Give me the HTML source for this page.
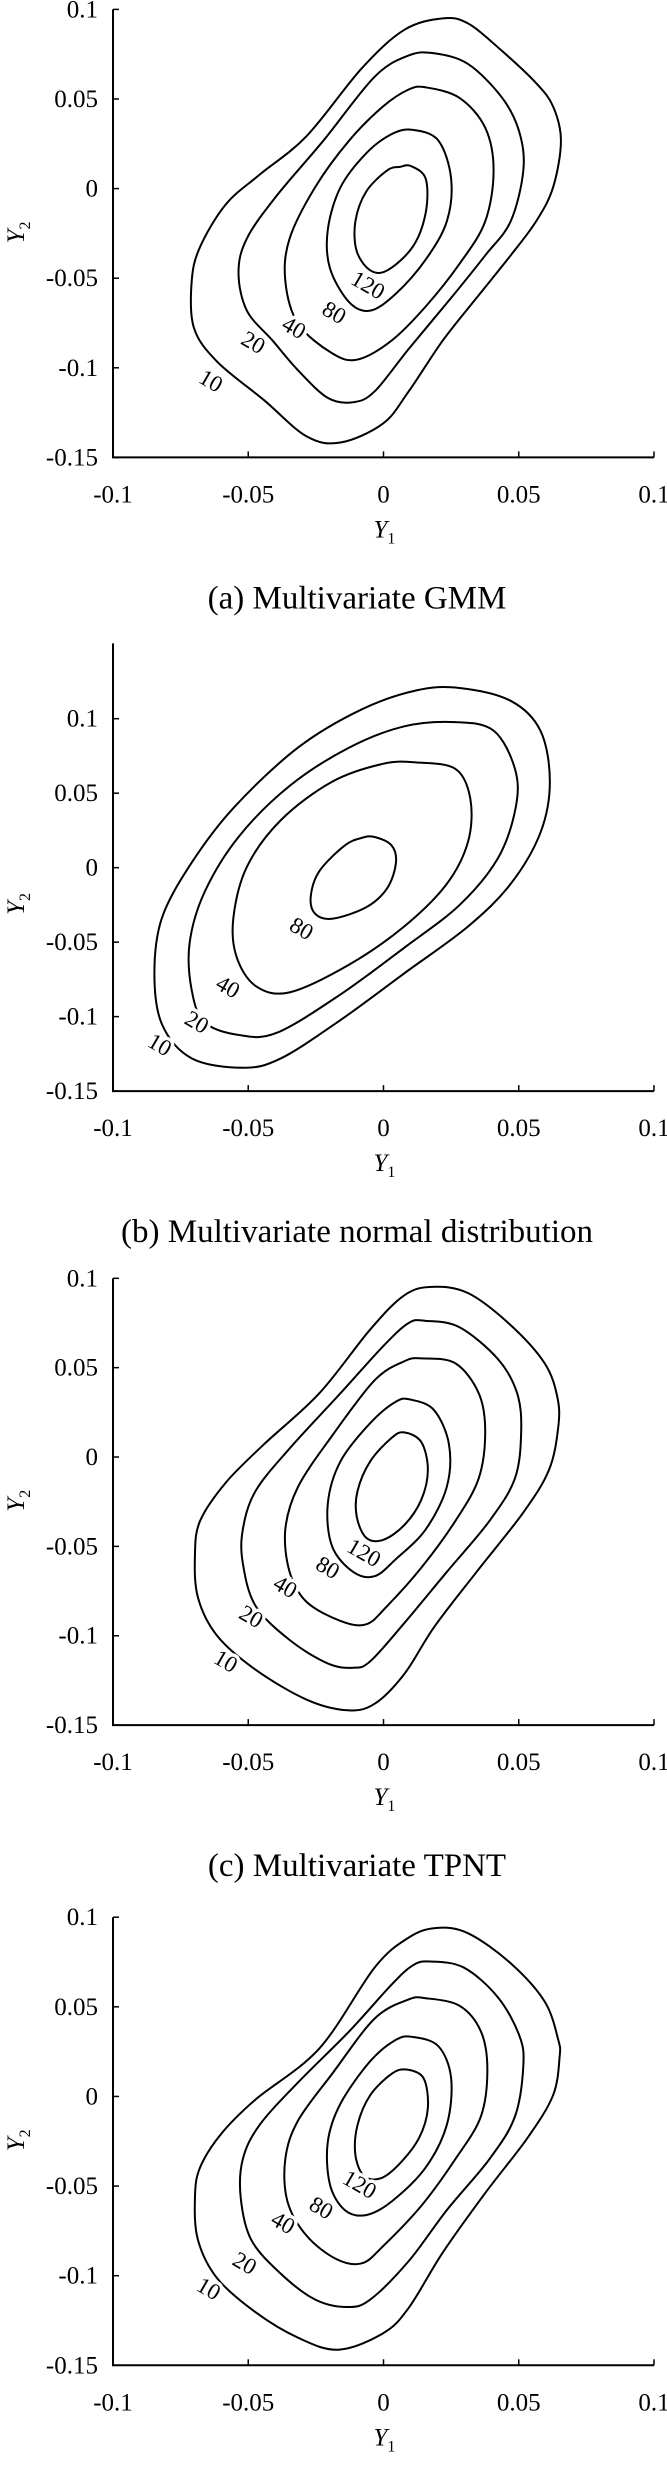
<!DOCTYPE html>
<html><head><meta charset="utf-8"><style>
html,body{margin:0;padding:0;background:#fff}
svg{display:block}
text{font-family:"Liberation Serif",serif;fill:#000}
</style></head><body>
<svg id="chart" width="667" height="2481" viewBox="0 0 667 2481" xmlns="http://www.w3.org/2000/svg"></svg>
<script>
// ---- data (Y1, Y2 pairs) ----
const levels = [10, 20, 40, 80, 120];
const xTicks = [-0.1, -0.05, 0, 0.05, 0.1];
const xTickLabels = ["-0.1", "-0.05", "0", "0.05", "0.1"];
const yTicksA = [0.1, 0.05, 0, -0.05, -0.1, -0.15];
const yTickLabelsA = ["0.1", "0.05", "0", "-0.05", "-0.1", "-0.15"];

const gmm10 = [[.0219,.095],[.0313,.0921],[.0439,.0767],[.0564,.0589],[.0627,.0458],[.0656,.0268],[.0627,.0007],[.0564,-.0183],[.047,-.0373],[.0344,-.061],[.0219,-.0848],[.0093,-.1132],[-.0002,-.1311],[-.0159,-.1417],[-.0285,-.1382],[-.0442,-.118],[-.0615,-.0966],[-.0701,-.0776],[-.0709,-.0515],[-.0678,-.0325],[-.0583,-.0088],[-.0458,.0078],[-.0285,.0292],[-.008,.0672],[.0077,.0886]];
const gmm20 = [[.0187,.0755],[.0313,.0695],[.0439,.0506],[.0502,.0316],[.0517,.0102],[.047,-.0183],[.0376,-.0373],[.025,-.061],[.0093,-.0895],[-.0033,-.1132],[-.0112,-.1192],[-.0206,-.1168],[-.0316,-.1014],[-.041,-.0848],[-.0505,-.0681],[-.0536,-.0468],[-.0505,-.0278],[-.0395,-.004],[-.0222,.0268],[-.0033,.0624],[.0093,.0743]];
const gmm40 = [[.0156,.0565],[.0281,.0506],[.0376,.034],[.0407,.0102],[.0376,-.0183],[.0281,-.042],[.0156,-.0658],[.003,-.0848],[-.0096,-.0954],[-.019,-.0919],[-.0316,-.0753],[-.0363,-.0515],[-.0347,-.0278],[-.0253,.0007],[-.0127,.0268],[-.0002,.0458],[.0093,.0553]];
const gmm80 = [[.0108,.0328],[.0203,.0268],[.025,.0055],[.0234,-.0183],[.0156,-.0396],[.0046,-.0586],[-.0049,-.0681],[-.0127,-.0634],[-.0198,-.0444],[-.0206,-.023],[-.0159,.0007],[-.0064,.0197],[.003,.0304]];
const gmm120 = [[.0101,.0126],[.0156,.0055],[.0156,-.0135],[.0108,-.0325],[.0014,-.0456],[-.0049,-.0456],[-.0099,-.0349],[-.0104,-.0183],[-.0064,-.0017],[.0014,.0102],[.0061,.0121]];
const gmmLabels = [[-.0057,-.0539],[-.0182,-.0692],[-.0331,-.0776],[-.0481,-.0859],[-.0638,-.1073]];
const gmmLabelText = ["120","80","40","20","10"];

const nrm10 = [[.0281,.1206],[.047,.112],[.058,.092],[.0615,.0577],[.058,.0234],[.047,-.0109],[.0313,-.0394],[.0077,-.0709],[-.0159,-.1023],[-.0379,-.128],[-.052,-.1343],[-.0709,-.128],[-.0819,-.1051],[-.0847,-.0709],[-.0819,-.0337],[-.0709,.0034],[-.0552,.0406],[-.0316,.0806],[-.008,.1063],[.0124,.1191]];
const nrm20 = [[.0266,.0977],[.0407,.092],[.0486,.0663],[.0489,.0406],[.0423,.0063],[.0281,-.0251],[.0077,-.0537],[-.0159,-.0851],[-.0395,-.1109],[-.0536,-.1123],[-.0662,-.1037],[-.0709,-.0823],[-.0717,-.0509],[-.0662,-.0166],[-.0536,.0206],[-.0347,.0549],[-.0127,.0806],[.0077,.0949]];
const nrm40 = [[.0124,.0706],[.0266,.0663],[.0321,.0463],[.0313,.0177],[.0234,-.0109],[.0077,-.0394],[-.0127,-.0651],[-.0347,-.0837],[-.0473,-.0794],[-.0544,-.0594],[-.0555,-.0337],[-.0505,.0006],[-.0379,.032],[-.019,.0577],[-.0002,.0697]];
const nrm80 = [[-.0033,.0206],[.003,.0149],[.0046,.0034],[.0014,-.0137],[-.0064,-.0266],[-.019,-.0343],[-.0253,-.0309],[-.0269,-.0194],[-.0237,-.0023],[-.0143,.0149],[-.008,.02]];
const nrmLabels = [[-.0303,-.0409],[-.0575,-.08],[-.069,-.1037],[-.0827,-.1189]];
const nrmLabelText = ["80","40","20","10"];

const tp10 = [[.0179,.0952],[.0313,.0917],[.047,.0738],[.0596,.0524],[.0643,.0333],[.0646,.0167],[.0612,-.0071],[.0517,-.031],[.0344,-.0643],[.0187,-.0952],[.0077,-.1214],[-.0033,-.1381],[-.0135,-.1417],[-.0285,-.1357],[-.0473,-.119],[-.0615,-.1],[-.0686,-.0786],[-.0697,-.0548],[-.0678,-.0357],[-.0583,-.0143],[-.0442,.0071],[-.0237,.0357],[-.0049,.0714],[.0077,.0905]];
const tp20 = [[.0156,.0762],[.0281,.0726],[.0423,.0548],[.0494,.0357],[.0509,.0143],[.0486,-.0119],[.0392,-.0357],[.0234,-.0643],[.0077,-.0929],[-.0049,-.1143],[-.0112,-.1179],[-.0206,-.1155],[-.0347,-.1024],[-.0473,-.0833],[-.052,-.0595],[-.052,-.0405],[-.0473,-.019],[-.0347,.0048],[-.0159,.0357],[-.0002,.0619],[.0093,.075]];
const tp40 = [[.014,.0552],[.0266,.0524],[.0352,.0357],[.0376,.0143],[.0352,-.0119],[.0266,-.0357],[.014,-.0619],[.0014,-.0833],[-.0064,-.0936],[-.0159,-.0917],[-.0285,-.081],[-.0347,-.0643],[-.0363,-.0405],[-.0316,-.0167],[-.019,.0119],[-.0033,.0429],[.0077,.0536]];
const tp80 = [[.0101,.0321],[.0187,.0262],[.0242,.0071],[.0234,-.0167],[.0156,-.0405],[.0046,-.0571],[-.0033,-.0667],[-.0112,-.0643],[-.019,-.05],[-.0206,-.0262],[-.0159,-.0024],[-.0049,.019],[.0046,.031]];
const tp120 = [[.0077,.0138],[.014,.0083],[.0164,-.0071],[.014,-.0238],[.0077,-.0381],[-.0002,-.0464],[-.0064,-.0452],[-.0099,-.0333],[-.0096,-.019],[-.0049,-.0024],[.003,.0107]];
const tpLabels = [[-.0072,-.0536],[-.0206,-.0619],[-.0363,-.0726],[-.0489,-.0893],[-.0583,-.1143]];

const ns10 = [[.0195,.094],[.0313,.091],[.047,.0743],[.0596,.0529],[.0646,.0316],[.0651,.0221],[.0627,.0007],[.0533,-.023],[.0376,-.0539],[.0219,-.0871],[.0093,-.118],[-.0002,-.1322],[-.0167,-.1413],[-.0316,-.1346],[-.0473,-.1204],[-.0615,-.1014],[-.0686,-.08],[-.0697,-.0563],[-.0678,-.0396],[-.0599,-.0207],[-.0473,-.0017],[-.0237,.0268],[-.0033,.0719],[.0093,.0886]];
const ns20 = [[.0171,.0753],[.0297,.0719],[.0423,.0553],[.0502,.034],[.0517,.0173],[.0486,-.0112],[.0392,-.0349],[.0234,-.0634],[.0093,-.0919],[-.0049,-.1133],[-.0135,-.1175],[-.0253,-.1133],[-.0379,-.099],[-.0489,-.08],[-.0528,-.0563],[-.052,-.0349],[-.0458,-.0159],[-.0316,.0078],[-.0127,.0363],[.003,.0624],[.0108,.0731]];
const ns40 = [[.0156,.0548],[.0281,.0506],[.036,.0363],[.0384,.015],[.036,-.0112],[.0266,-.0349],[.014,-.061],[-.0002,-.0836],[-.008,-.0931],[-.0175,-.0907],[-.0285,-.0776],[-.0355,-.0586],[-.0363,-.0349],[-.0316,-.0135],[-.019,.0126],[-.0033,.0434],[.0093,.0541]];
const ns80 = [[.0108,.0332],[.0203,.028],[.025,.0102],[.0234,-.0159],[.0156,-.0396],[.003,-.0586],[-.0064,-.0662],[-.0143,-.0634],[-.0198,-.0491],[-.0206,-.0254],[-.0159,-.004],[-.0049,.0197],[.0046,.0316]];
const ns120 = [[.0085,.015],[.0148,.0102],[.0164,-.0064],[.0132,-.023],[.0061,-.0373],[-.0009,-.0456],[-.0072,-.0444],[-.0104,-.0325],[-.0096,-.0159],[-.0049,.0007],[.003,.0126]];
const nsLabels = [[-.0088,-.0491],[-.023,-.0622],[-.0371,-.0705],[-.0513,-.0931],[-.0646,-.1073]];

const NS = "http://www.w3.org/2000/svg";
const svg = document.getElementById("chart");
function mk(tag, attrs, parent){const e=document.createElementNS(NS,tag);for(const k in attrs)e.setAttribute(k,attrs[k]);(parent||svg).appendChild(e);return e;}

function smoothPath(pts){
  const n=pts.length;let d="M"+pts[0][0].toFixed(2)+","+pts[0][1].toFixed(2);
  for(let i=0;i<n;i++){
    const p0=pts[(i-1+n)%n],p1=pts[i],p2=pts[(i+1)%n],p3=pts[(i+2)%n];
    const c1=[p1[0]+(p2[0]-p0[0])/6,p1[1]+(p2[1]-p0[1])/6];
    const c2=[p2[0]-(p3[0]-p1[0])/6,p2[1]-(p3[1]-p1[1])/6];
    d+="C"+c1[0].toFixed(2)+","+c1[1].toFixed(2)+" "+c2[0].toFixed(2)+","+c2[1].toFixed(2)+" "+p2[0].toFixed(2)+","+p2[1].toFixed(2);
  }
  return d+"Z";
}

function panel(key, y01, yBot, yAxisTop, contours, labels, labelText, caption){
  const L=113,R=654;
  const sx=v=>L+(v+0.1)/0.2*(R-L);
  const per=(yBot-y01)/0.25;
  const sy=v=>y01-(v-0.1)*per;
  const g=mk("g",{});
  
  
  const ax=mk("path",{d:`M${L},${yAxisTop}V${yBot}H${R}`,fill:"none",stroke:"#000","stroke-width":2},g);
  
  
  xTicks.forEach((t,i)=>{
    const x=sx(t);
    if(i>0){const tk=mk("line",{x1:x,x2:x,y1:yBot,y2:yBot-6,stroke:"#000","stroke-width":1.5},g);
      
      }
    const tx=mk("text",{x:x,y:yBot+45,"font-size":25,"text-anchor":"middle"},g);
    tx.textContent=xTickLabels[i];
    
    
  });
  yTicksA.forEach((t,i)=>{
    const y=sy(t);
    const tk=mk("line",{x1:L,x2:L+6,y1:y,y2:y,stroke:"#000","stroke-width":1.5},g);
    
    
    const tx=mk("text",{x:98,y:y+8,"font-size":25,"text-anchor":"end"},g);
    tx.textContent=yTickLabelsA[i];
    
    
  });
  const xt=mk("text",{x:sx(0)-10,y:yBot+80,"font-size":25},g);
  xt.innerHTML='<tspan font-style="italic">Y</tspan><tspan font-size="16" dy="6">1</tspan>';
  
  
  const ym=(y01+yBot)/2;
  const yt=mk("text",{x:0,y:0,"font-size":25,transform:`translate(24,${ym+10}) rotate(-90)`},g);
  yt.innerHTML='<tspan font-style="italic">Y</tspan><tspan font-size="16" dy="6">2</tspan>';
  
  
  contours.forEach((c,i)=>{
    const pts=c.map(p=>[sx(p[0]),sy(p[1])]);
    const p=mk("path",{d:smoothPath(pts),fill:"none",stroke:"#000","stroke-width":2},g);
    
    
  });
  labels.forEach((lp,i)=>{
    const x=sx(lp[0]),y=sy(lp[1]);
    const t=mk("text",{x:0,y:0,"font-size":23,"text-anchor":"middle","dominant-baseline":"central",
      transform:`translate(${x},${y}) rotate(30)`,stroke:"#fff","stroke-width":7,"paint-order":"stroke"},g);
    t.textContent=labelText[i];
    
    
  });
  const cap=mk("text",{x:357,y:yBot+151,"font-size":33,"text-anchor":"middle"},g);
  cap.textContent=caption;
  
  
}

panel("gmm",9.4,457.4,9.4,[gmm10,gmm20,gmm40,gmm80,gmm120],gmmLabels,gmmLabelText,"(a) Multivariate GMM");
panel("normal",718.7,1091.1,643.4,[nrm10,nrm20,nrm40,nrm80],nrmLabels,nrmLabelText,"(b) Multivariate normal distribution");
panel("tpnt",1278.3,1725.1,1278.3,[tp10,tp20,tp40,tp80,tp120],tpLabels,gmmLabelText,"(c) Multivariate TPNT");
panel("nstpnt",1917.2,2365.3,1917.2,[ns10,ns20,ns40,ns80,ns120],nsLabels,gmmLabelText,"(d) Multivariate NSTPNT");
</script>
</body></html>
